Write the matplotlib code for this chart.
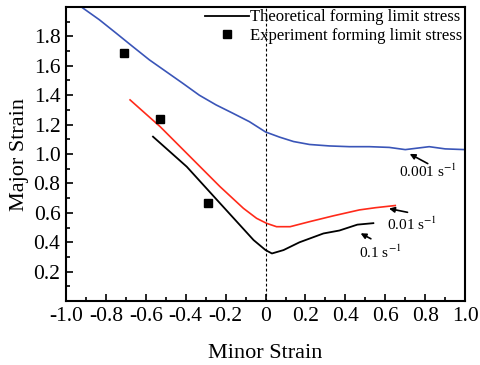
import numpy as np
import matplotlib
matplotlib.use('Agg')
import matplotlib.pyplot as plt
import matplotlib.ticker as mticker

plt.rcParams['font.family'] = ['Liberation Serif', 'DejaVu Serif']
plt.rcParams['mathtext.fontset'] = 'stix'
plt.rcParams['axes.unicode_minus'] = False

# strain rate 0.001 s^-1
x_001 = [-0.916, -0.833, -0.749, -0.666, -0.582, -0.499, -0.415, -0.332, -0.248, -0.165, -0.081,
         0.0, 0.07, 0.14, 0.22, 0.32, 0.42, 0.52, 0.62, 0.70, 0.76, 0.82, 0.90, 1.0]
y_001 = [1.993, 1.913, 1.822, 1.731, 1.640, 1.561, 1.481, 1.400, 1.334, 1.278, 1.220,
         1.150, 1.115, 1.085, 1.065, 1.055, 1.050, 1.050, 1.045, 1.030, 1.040, 1.050, 1.035, 1.030]

# strain rate 0.01 s^-1
x_01 = [-0.679, -0.529, -0.395, -0.228, -0.111, -0.045, 0.005, 0.055, 0.123, 0.22, 0.34, 0.47, 0.55, 0.65]
y_01 = [1.368, 1.187, 1.005, 0.778, 0.631, 0.563, 0.529, 0.506, 0.506, 0.540, 0.580, 0.620, 0.635, 0.650]

# strain rate 0.1 s^-1
x_1 = [-0.564, -0.395, -0.228, -0.06, 0.0, 0.032, 0.09, 0.17, 0.29, 0.37, 0.46, 0.54]
y_1 = [1.118, 0.914, 0.665, 0.415, 0.347, 0.324, 0.347, 0.400, 0.460, 0.480, 0.520, 0.530]

# experiment points
x_exp = [-0.71, -0.53, -0.29]
y_exp = [1.69, 1.24, 0.67]

xtick_vals = [-1.0, -0.8, -0.6, -0.4, -0.2, 0.0, 0.2, 0.4, 0.6, 0.8, 1.0]
xtick_labels = ['-1.0', '-0.8', '-0.6', '-0.4', '-0.2', '0', '0.2', '0.4', '0.6', '0.8', '1.0']
ytick_vals = [0.2, 0.4, 0.6, 0.8, 1.0, 1.2, 1.4, 1.6, 1.8]
ytick_labels = ['0.2', '0.4', '0.6', '0.8', '1.0', '1.2', '1.4', '1.6', '1.8']

fig = plt.figure(figsize=(4.8, 3.65), dpi=100)
ax = fig.add_axes([0.1375, 0.175, 0.8315, 0.806])

ax.plot(x_001, y_001, color='#3a55b8', lw=1.2)
ax.plot(x_01, y_01, color='#ff2a1a', lw=1.2)
ax.plot(x_1, y_1, color='black', lw=1.3, label='Theoretical forming limit stress')
ax.plot(x_exp, y_exp, 's', color='black', ms=6, ls='none', label='Experiment forming limit stress')
ax.axvline(0, color='black', lw=0.8, ls=(0, (2.5, 2)))

ax.set_xlim(-1.0, 1.0)
ax.set_ylim(0, 2.0)
ax.set_xticks(xtick_vals)
ax.set_xticklabels(xtick_labels)
ax.set_yticks(ytick_vals)
ax.set_yticklabels(ytick_labels)
ax.xaxis.set_minor_locator(mticker.MultipleLocator(0.1))
ax.yaxis.set_minor_locator(mticker.MultipleLocator(0.1))
ax.tick_params(which='both', direction='in', top=False, right=False, labelsize=15.5, width=1.2)
ax.tick_params(which='major', length=5, pad=4)
ax.tick_params(which='minor', length=3)
for s in ax.spines.values():
    s.set_linewidth(1.5)

ax.set_xlabel('Minor Strain', fontsize=16, labelpad=13)
ax.set_ylabel('Major Strain', fontsize=16, labelpad=3)

ax.legend(loc='upper right', frameon=False, fontsize=12, handlelength=2.6,
          handletextpad=0.1, borderpad=0.1, borderaxespad=0.05, labelspacing=0.15)

# strain rate labels with arrows
arrow = dict(arrowstyle='-|>', color='black', lw=1.2, mutation_scale=8)
ax.annotate('', xy=(0.71, 1.01), xytext=(0.825, 0.926), arrowprops=arrow)
ax.text(0.815, 0.88, '0.001 s$^{-1}$', fontsize=11, ha='center', va='center')
ax.annotate('', xy=(0.605, 0.633), xytext=(0.725, 0.60), arrowprops=arrow)
ax.text(0.735, 0.52, '0.01 s$^{-1}$', fontsize=11, ha='center', va='center')
ax.annotate('', xy=(0.464, 0.47), xytext=(0.54, 0.415), arrowprops=arrow)
ax.text(0.574, 0.33, '0.1 s$^{-1}$', fontsize=11, ha='center', va='center')

fig.savefig('out.png', dpi=100)
